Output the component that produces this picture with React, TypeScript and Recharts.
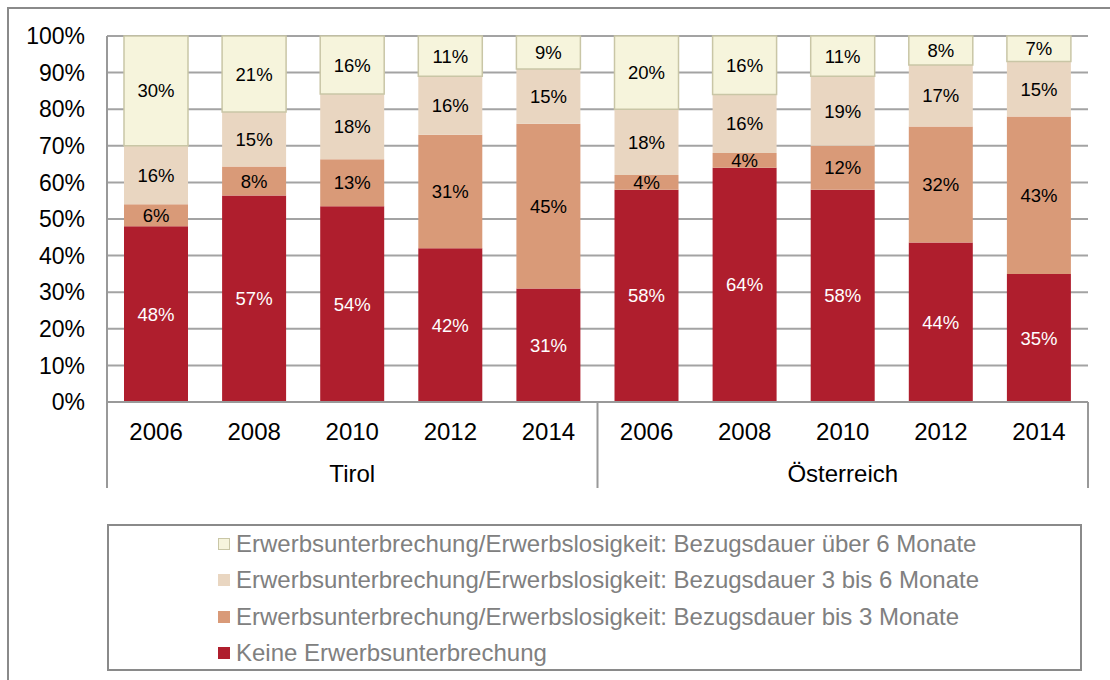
import React from 'react';
import { BarChart, Bar, XAxis, YAxis, CartesianGrid, LabelList } from 'recharts';

const REGIONS = ['Tirol', 'Tirol', 'Tirol', 'Tirol', 'Tirol', 'Österreich', 'Österreich', 'Österreich', 'Österreich', 'Österreich'];
const YEARS = ['2006', '2008', '2010', '2012', '2014', '2006', '2008', '2010', '2012', '2014'];

const keine = [48, 57, 54, 42, 31, 58, 64, 58, 44, 35];
const bis3 = [6, 8, 13, 31, 45, 4, 4, 12, 32, 43];
const drei6 = [16, 15, 18, 16, 15, 18, 16, 19, 17, 15];
const ueber6 = [30, 21, 16, 11, 9, 20, 16, 11, 8, 7];

const Y_TICKS = [0, 0.1, 0.2, 0.3, 0.4, 0.5, 0.6, 0.7, 0.8, 0.9, 1];

const SERIES = [
  { key: 'keine', name: 'Keine Erwerbsunterbrechung', color: '#AF1E2D', stroke: 'none', label: '#ffffff' },
  { key: 'bis3', name: 'Erwerbsunterbrechung/Erwerbslosigkeit: Bezugsdauer bis 3 Monate', color: '#D99A78', stroke: 'none', label: '#000000' },
  { key: 'drei6', name: 'Erwerbsunterbrechung/Erwerbslosigkeit: Bezugsdauer 3 bis 6 Monate', color: '#E9D6C1', stroke: 'none', label: '#000000' },
  { key: 'ueber6', name: 'Erwerbsunterbrechung/Erwerbslosigkeit: Bezugsdauer über 6 Monate', color: '#F6F4DC', stroke: '#C9C6A6', label: '#000000' },
];

const data = YEARS.map((y, i) => ({
  id: i,
  year: y,
  region: REGIONS[i],
  keine: keine[i],
  bis3: bis3[i],
  drei6: drei6[i],
  ueber6: ueber6[i],
}));

const W = 1110;
const H = 680;
const PLOT_LEFT = 107;
const PLOT_RIGHT = 1088;
const PLOT_TOP = 36;
const PLOT_BOTTOM = 402;
const AXIS_H = 86;
const BAND = (PLOT_RIGHT - PLOT_LEFT) / YEARS.length;
const LINE = '#999999';

const XTick = (props: any) => {
  const { x, y, payload } = props;
  const i = payload.index;
  const y0 = y;
  const els: any[] = [];
  els.push(
    <text key="yr" x={x} y={y0 + 38} textAnchor="middle" fontSize={24} fill="#000">
      {YEARS[i]}
    </text>
  );
  const groupStart = i === 0 || REGIONS[i] !== REGIONS[i - 1];
  if (groupStart) {
    els.push(<line key="sep" x1={x - BAND / 2} x2={x - BAND / 2} y1={y0} y2={y0 + AXIS_H} stroke={LINE} strokeWidth={2} />);
  }
  if (i === YEARS.length - 1) {
    els.push(<line key="end" x1={x + BAND / 2} x2={x + BAND / 2} y1={y0} y2={y0 + AXIS_H} stroke={LINE} strokeWidth={2} />);
  }
  const members = REGIONS.map((r, k) => (r === REGIONS[i] ? k : -1)).filter((k) => k >= 0);
  const mid = members[Math.floor(members.length / 2)];
  if (i === mid) {
    const offset = members.length % 2 === 0 ? -BAND / 2 : 0;
    els.push(
      <text key="grp" x={x + offset} y={y0 + 80} textAnchor="middle" fontSize={24} fill="#000">
        {REGIONS[i]}
      </text>
    );
  }
  return <g>{els}</g>;
};

export default function App() {
  const legendItems = [...SERIES].reverse();
  return (
    <div
      style={{
        position: 'absolute',
        left: 0,
        top: 0,
        width: W,
        height: H,
        overflow: 'hidden',
        background: '#fff',
        fontFamily: '"Liberation Sans", Arial, sans-serif',
      }}
    >
      <div
        style={{
          position: 'absolute',
          left: 7,
          top: 7,
          width: 1200,
          height: 800,
          borderLeft: '2px solid #8a8a8a',
          borderTop: '2px solid #8a8a8a',
        }}
      />
      <div style={{ position: 'absolute', left: 0, top: 0 }}>
        <BarChart
          width={W}
          height={H}
          data={data}
          stackOffset="expand"
          margin={{ top: PLOT_TOP, right: W - PLOT_RIGHT, left: 0, bottom: H - PLOT_BOTTOM - AXIS_H }}
          barSize={64}
        >
          <CartesianGrid horizontal vertical={false} stroke="#a3a3a3" strokeWidth={2} />
          <YAxis
            width={PLOT_LEFT}
            domain={[0, 1]}
            ticks={Y_TICKS}
            tickFormatter={(v: number) => `${Math.round(v * 100)}%`}
            tick={{ fontSize: 23, fill: '#000' }}
            tickLine={false}
            tickSize={0}
            tickMargin={22}
            axisLine={{ stroke: LINE, strokeWidth: 2 }}
            interval={0}
          />
          <XAxis
            dataKey="id"
            type="category"
            height={AXIS_H}
            tickLine={false}
            tickSize={0}
            tickMargin={0}
            interval={0}
            axisLine={{ stroke: LINE, strokeWidth: 2 }}
            tick={<XTick />}
          />
          {SERIES.map((s) => (
            <Bar
              key={s.key}
              dataKey={s.key}
              name={s.name}
              stackId="a"
              fill={s.color}
              stroke={s.stroke}
              strokeWidth={s.stroke === 'none' ? 0 : 1.5}
              isAnimationActive={false}
            >
              <LabelList
                dataKey={s.key}
                position="center"
                formatter={(v: any) => `${v}%`}
                style={{ fontSize: 18.5, fill: s.label }}
              />
            </Bar>
          ))}
        </BarChart>
      </div>
      <div
        style={{
          position: 'absolute',
          left: 107,
          top: 524,
          width: 975,
          height: 147,
          boxSizing: 'border-box',
          border: '2px solid #8a8a8a',
          background: '#fff',
        }}
      >
        {legendItems.map((s, i) => (
          <div
            key={s.key}
            style={{
              position: 'absolute',
              left: 109,
              top: i * 36.3,
              height: 36,
              display: 'flex',
              alignItems: 'center',
              whiteSpace: 'nowrap',
            }}
          >
            <span
              style={{
                display: 'inline-block',
                width: 12,
                height: 12,
                boxSizing: 'border-box',
                background: s.color,
                border: s.stroke === 'none' ? 'none' : `1px solid ${s.stroke}`,
                marginRight: 6,
              }}
            />
            <span style={{ fontSize: 24, color: '#808080' }}>{s.name}</span>
          </div>
        ))}
      </div>
    </div>
  );
}
